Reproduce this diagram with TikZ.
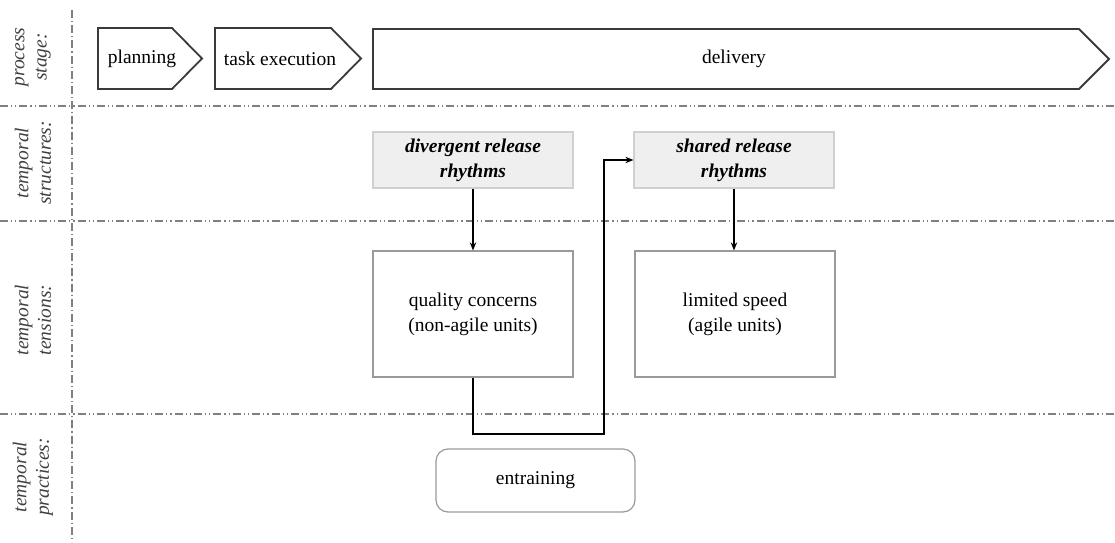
\documentclass[tikz,border=0pt]{standalone}
\usepackage{fontspec}
\setmainfont{Liberation Serif}
\usetikzlibrary{arrows.meta}
\definecolor{sepgray}{HTML}{808080}
\definecolor{boxgray}{HTML}{9A9A9A}
\definecolor{fillgray}{HTML}{EFEFEF}
\definecolor{lightborder}{HTML}{D0D0D0}
\definecolor{chev}{HTML}{3A3A3A}
\definecolor{labelc}{HTML}{404040}
\tikzset{
  sep/.style={draw=sepgray, line width=0.6pt, dash pattern=on 4pt off 1.5pt on 0.6pt off 1.5pt on 0.6pt off 1.5pt},
  vsep/.style={draw=sepgray, line width=0.6pt, dash pattern=on 4pt off 1.5pt on 0.6pt off 1.5pt},
  chevron/.style={draw=chev, line width=0.9pt, line join=miter},
  txt/.style={font=\fontsize{9.75}{12.5}\selectfont, text=black, inner sep=0pt},
  rowlabel/.style={font=\fontsize{9.75}{11.2}\selectfont\itshape, text=labelc, align=center, rotate=90, inner sep=0pt},
  structbox/.style={draw=lightborder, fill=fillgray, line width=0.6pt, minimum width=100pt, minimum height=28pt, align=center, font=\fontsize{9.75}{12.5}\selectfont\bfseries\itshape, inner sep=0pt},
  tensionbox/.style={draw=boxgray, line width=0.6pt, minimum width=100pt, minimum height=63pt, align=center, font=\fontsize{9.75}{12.5}\selectfont, inner sep=0pt},
  practicebox/.style={draw=boxgray, line width=0.6pt, rounded corners=6pt, minimum width=99.5pt, minimum height=31.5pt, align=center, font=\fontsize{9.75}{12.5}\selectfont, inner sep=0pt},
  arr/.style={draw=black, line width=0.8pt, -{Stealth[length=4pt,width=3.2pt]}},
  conn/.style={draw=black, line width=1pt, -{Stealth[length=4pt,width=3.2pt]}},
}
\begin{document}
\begin{tikzpicture}[x=0.5pt,y=-0.5pt]
\useasboundingbox (0,0) rectangle (1115,542);
% separators
\draw[vsep] (72,10) -- (72,542);
\draw[sep] (0,106) -- (1115,106);
\draw[sep] (0,221) -- (1115,221);
\draw[sep] (0,414) -- (1115,414);
% row labels
\node[rowlabel] (lstage) at (33,57) {process\\stage:};
\node[rowlabel] (lstruct) at (33,163) {temporal\\structures:};
\node[rowlabel] (ltens) at (33,320) {temporal\\tensions:};
\node[rowlabel] (lprac) at (33,477) {temporal\\practices:};
% chevrons
\draw[chevron] (98,28) -- (172,28) -- (202,58.5) -- (172,89) -- (98,89) -- cycle;
\node[txt] (plan) at (142,58.5) {planning};
\draw[chevron] (215,28) -- (331,28) -- (361,58.5) -- (331,89) -- (215,89) -- cycle;
\node[txt] (exec) at (280,58.5) {task execution};
\draw[chevron] (373,29) -- (1079,29) -- (1109,59) -- (1079,89) -- (373,89) -- cycle;
\node[txt] (deliv) at (734,59) {delivery};
% structures
\node[structbox] (div) at (473,160) {divergent release\\rhythms};
\node[structbox] (shared) at (734,160) {shared release\\rhythms};
% tensions
\node[tensionbox] (qual) at (473,314) {quality concerns\\(non-agile units)};
\node[tensionbox] (lim) at (735,314) {limited speed\\(agile units)};
% practices
\node[practicebox] (entr) at (535.5,480.5) {entraining};
% connectors
\draw[arr] (div.south) -- (qual.north);
\draw[arr] (shared.south) -- (shared.south |- lim.north);
\coordinate (turn) at (604,434);
\draw[conn] (qual.south) |- (turn) |- (shared.west);
\end{tikzpicture}
\end{document}
